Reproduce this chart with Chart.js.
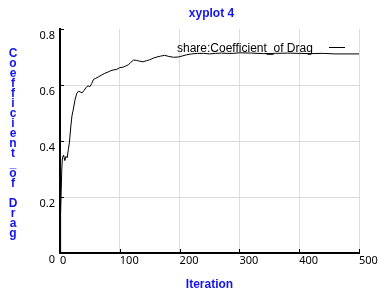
<!DOCTYPE html>
<html>
<head>
<meta charset="utf-8">
<script src="https://cdn.jsdelivr.net/npm/chart.js@4/dist/chart.umd.min.js"></script>
<style>
  html, body { margin: 0; background: #fff; }
</style>
</head>
<body>
<canvas id="chart" width="385" height="295"></canvas>
<script>
const chartTitle = "xyplot 4";
const xLabel = "Iteration";
const yLabel = "Coefficient_of Drag";
const seriesName = "share:Coefficient_of Drag";

const iterations = [0, 1, 3, 4, 6, 8, 10, 12, 14, 16, 18, 20, 22, 25, 28, 31, 34, 37, 40, 44, 47, 50, 53, 56, 60, 65, 70, 75, 80, 85, 90, 95, 100, 106, 110, 114, 118, 123, 128, 133, 139, 145, 150, 156, 162, 168, 175, 182, 190, 198, 205, 212, 220, 230, 240, 250, 260, 270, 280, 290, 300, 320, 340, 360, 380, 400, 420, 440, 460, 480, 500];
const dragValues = [0.0, 0.14, 0.30, 0.34, 0.35, 0.33, 0.345, 0.34, 0.37, 0.40, 0.45, 0.49, 0.51, 0.546, 0.57, 0.578, 0.575, 0.572, 0.58, 0.592, 0.597, 0.594, 0.605, 0.62, 0.624, 0.63, 0.636, 0.642, 0.646, 0.651, 0.654, 0.656, 0.662, 0.664, 0.668, 0.672, 0.68, 0.689, 0.688, 0.685, 0.683, 0.687, 0.69, 0.696, 0.70, 0.703, 0.706, 0.702, 0.699, 0.70, 0.704, 0.708, 0.711, 0.713, 0.713, 0.711, 0.713, 0.714, 0.713, 0.713, 0.715, 0.714, 0.712, 0.713, 0.714, 0.713, 0.712, 0.713, 0.711, 0.711, 0.711];

const xTicks = [0, 100, 200, 300, 400, 500];
const yTicks = [0, 0.2, 0.4, 0.6, 0.8];

const BLUE = "#1414ee";
const GRID = "#dcdcdc";
const FONT = "'Noto Sans', sans-serif";
const BOLD = "'Liberation Sans', Arial, sans-serif";

// title, inward tick marks, stacked y title and the legend are drawn by hand
const extras = {
  id: "extras",
  afterDraw(chart) {
    const { ctx, chartArea: a, scales } = chart;
    ctx.save();
    ctx.strokeStyle = "#000";
    ctx.lineWidth = 1;
    ctx.beginPath();
    for (const v of yTicks.slice(1)) {
      const y = Math.round(scales.y.getPixelForValue(v)) + 0.5;
      ctx.moveTo(a.left, y);
      ctx.lineTo(a.left + 4, y);
    }
    for (const v of xTicks.slice(1)) {
      const x = Math.round(scales.x.getPixelForValue(v)) + 0.5;
      ctx.moveTo(x, a.bottom);
      ctx.lineTo(x, a.bottom - 4);
    }
    ctx.stroke();

    ctx.fillStyle = BLUE;
    ctx.font = "bold 12px " + BOLD;
    ctx.textAlign = "center";
    ctx.textBaseline = "middle";
    ctx.fillText(chartTitle, (a.left + a.right) / 2 + 2, 14);
    [...yLabel].forEach((ch, i) => ctx.fillText(ch, 13, 54 + i * 10));

    ctx.fillStyle = "#000";
    ctx.font = "12px " + BOLD;
    ctx.textAlign = "left";
    ctx.textBaseline = "alphabetic";
    ctx.fillText(seriesName, 177, 52);
    ctx.beginPath();
    ctx.moveTo(329, 47.5);
    ctx.lineTo(345, 47.5);
    ctx.stroke();
    ctx.restore();
  }
};

new Chart(document.getElementById("chart"), {
  type: "line",
  data: {
    datasets: [{
      label: seriesName,
      data: iterations.map((x, i) => ({ x, y: dragValues[i] })),
      borderColor: "#000",
      borderWidth: 1,
      pointRadius: 0,
      tension: 0,
      fill: false,
    }],
  },
  options: {
    responsive: false,
    animation: false,
    layout: { padding: { left: 0, right: 26, top: 29, bottom: 0 } },
    plugins: {
      legend: { display: false },
      tooltip: { enabled: false },
      title: { display: false },
    },
    scales: {
      x: {
        type: "linear",
        min: 0,
        max: 500,
        afterBuildTicks: (s) => { s.ticks = xTicks.map((value) => ({ value })); },
        afterFit: (s) => { s.height = 42; },
        ticks: { color: "#000", font: { family: FONT, size: 11 }, padding: 1, align: "start", maxRotation: 0 },
        grid: { color: (c) => (c.tick && c.tick.value === 0 ? "transparent" : GRID), drawTicks: false },
        border: { color: "#000", width: 2 },
        title: {
          display: true,
          text: xLabel,
          color: BLUE,
          font: { family: BOLD, size: 12, weight: "bold" },
          padding: { top: 4, bottom: 3 },
        },
      },
      y: {
        min: 0,
        max: 0.8,
        afterBuildTicks: (s) => { s.ticks = yTicks.map((value) => ({ value })); },
        afterFit: (s) => { s.width = 60; },
        ticks: {
          color: "#000",
          font: { family: FONT, size: 11 },
          padding: 5,
          labelOffset: 7,
          callback: (v) => (v === 0 ? "0" : v.toFixed(1)),
        },
        grid: { color: (c) => (c.tick && (c.tick.value === 0 || c.tick.value === 0.8) ? "transparent" : GRID), drawTicks: false },
        border: { color: "#000", width: 2 },
      },
    },
  },
  plugins: [extras],
});
</script>
</body>
</html>
